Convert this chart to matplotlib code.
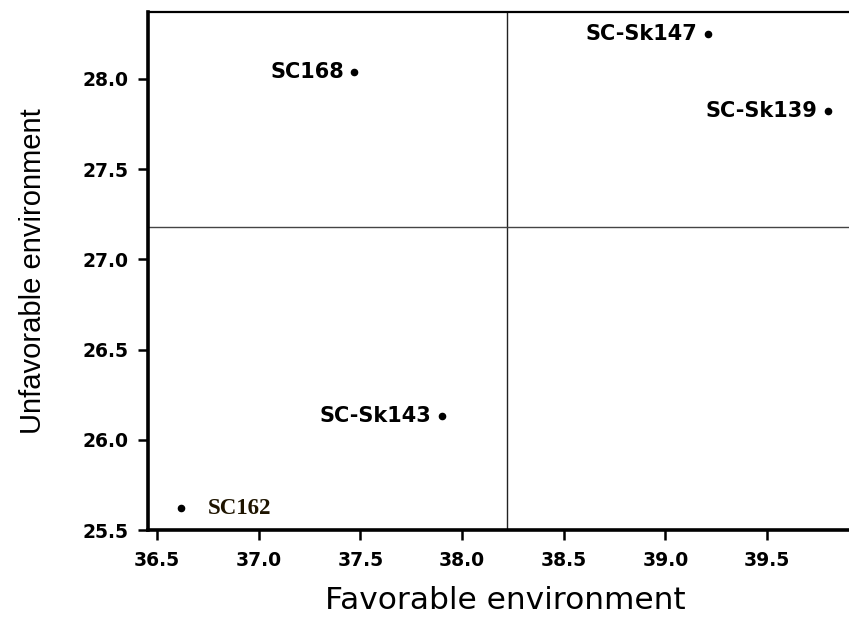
import matplotlib
matplotlib.use("Agg")
import matplotlib.pyplot as plt

# data
hybrids = ["SC168", "SC-Sk147", "SC-Sk139", "SC-Sk143", "SC162"]
favorable = [37.47, 39.21, 39.80, 37.90, 36.62]
unfavorable = [28.04, 28.25, 27.82, 26.13, 25.62]
mean_favorable = 38.22
mean_unfavorable = 27.18
xticks = [36.5, 37.0, 37.5, 38.0, 38.5, 39.0, 39.5]
yticks = [25.5, 26.0, 26.5, 27.0, 27.5, 28.0]

fig = plt.figure(figsize=(8.49, 6.17), dpi=100)
ax = fig.add_axes([148/849, 1 - 530/617, 704/849, 518/617])

ax.set_xlim(36.456, 39.918)
ax.set_ylim(25.5, 28.371)

ax.axvline(mean_favorable, color="#222222", lw=1.0, zorder=1)
ax.axhline(mean_unfavorable, color="#444444", lw=1.0, zorder=1)

ax.scatter(favorable, unfavorable, s=20, color="black", zorder=3)

for name, x, y in zip(hybrids, favorable, unfavorable):
    if name == "SC162":
        ax.annotate(name, (x, y), xytext=(19, 0), textcoords="offset points",
                    ha="left", va="center", fontsize=16.5, fontweight="bold",
                    family="Liberation Serif", color="#1e1400")
    else:
        ax.annotate(name, (x, y), xytext=(-7.5, 0), textcoords="offset points",
                    ha="right", va="center", fontsize=15, fontweight="bold",
                    family="DejaVu Sans", color="black")

ax.set_xticks(xticks)
ax.set_xticklabels([f"{v:.1f}" for v in xticks])
ax.set_yticks(yticks)
ax.set_yticklabels([f"{v:.1f}" for v in yticks])

for lab in ax.get_xticklabels() + ax.get_yticklabels():
    lab.set_fontweight("bold")
    lab.set_fontsize(13.5)
    lab.set_family("DejaVu Sans")

ax.tick_params(axis="both", direction="out", length=7, width=1.8, color="black")
ax.tick_params(axis="y", pad=7)
ax.tick_params(axis="x", pad=8)

ax.spines["right"].set_visible(False)
ax.spines["left"].set_linewidth(2.6)
ax.spines["bottom"].set_linewidth(2.6)
ax.spines["top"].set_linewidth(1.6)

ax.set_xlabel("Favorable environment", fontsize=22.5, family="DejaVu Sans", va="center")
ax.xaxis.set_label_coords(0.507, -0.137)
ax.set_ylabel("Unfavorable environment", fontsize=21, family="Liberation Sans", va="center")
ax.yaxis.set_label_coords(-0.163, 0.5)

fig.savefig("out.png", dpi=100)
